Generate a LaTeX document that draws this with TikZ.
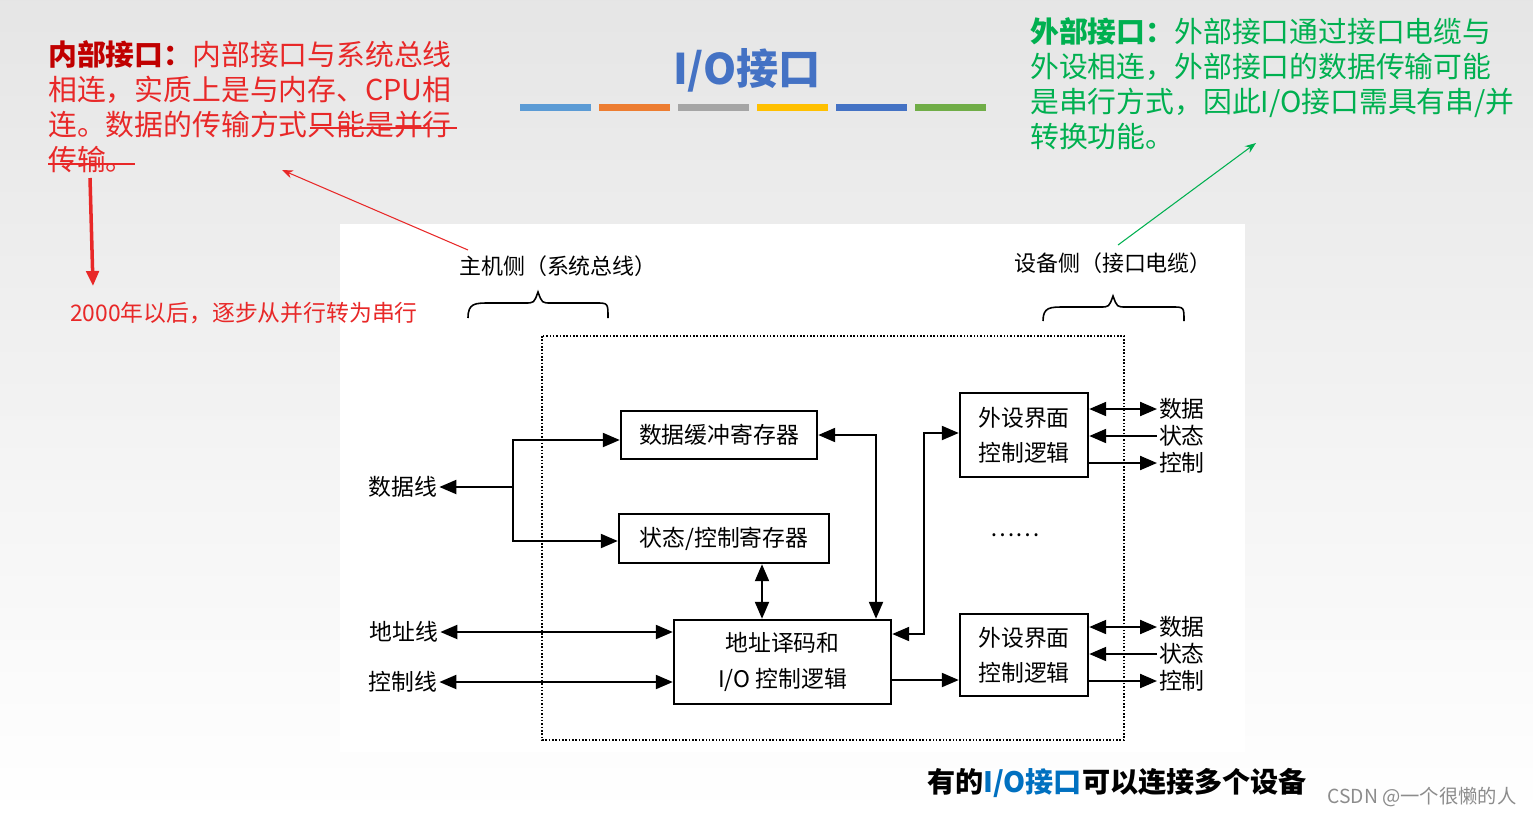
\documentclass[tikz,border=0pt]{standalone}
\usepackage{fontspec}
\setmainfont{Noto Sans CJK SC}
\usetikzlibrary{arrows.meta,shapes.geometric}
\definecolor{dred}{RGB}{192,0,0}
\definecolor{lred}{RGB}{232,40,40}
\definecolor{gr}{RGB}{0,176,80}
\definecolor{tblue}{RGB}{68,114,196}
\definecolor{b1}{RGB}{91,155,213}
\definecolor{b2}{RGB}{237,125,49}
\definecolor{b3}{RGB}{165,165,165}
\definecolor{b4}{RGB}{255,192,0}
\definecolor{b5}{RGB}{68,114,196}
\definecolor{b6}{RGB}{112,173,71}
\definecolor{iob}{RGB}{0,112,192}
\begin{document}
\begin{tikzpicture}[x=0.02cm,y=-0.02cm,
  box/.style={draw,line width=1.4pt,fill=white,inner sep=0pt,align=center,font=\fontsize{13}{20}\selectfont},
  lab/.style={font=\fontsize{12.5}{16}\selectfont,inner sep=1pt},
  ar/.style={line width=1.2pt,-{Triangle[length=0.34cm,width=0.28cm]}},
  dar/.style={line width=1.2pt,{Triangle[length=0.34cm,width=0.28cm]}-{Triangle[length=0.34cm,width=0.28cm]}},
  note/.style={font=\fontsize{16.4}{20}\selectfont,anchor=north west,inner sep=0pt,align=left}]
\useasboundingbox (0,0) rectangle (1533,815);
\shade[top color=black!10,bottom color=white] (0,0) rectangle (1533,815);
\fill[white] (340,224) rectangle (1245,752);
% title
\node[font=\fontsize{24}{28}\selectfont\bfseries,text=tblue] (title) at (747,70) {I/O接口};
\foreach \i/\c in {0/b1,1/b2,2/b3,3/b4,4/b5,5/b6}
  \fill[\c] (520+\i*79,104) rectangle (591+\i*79,111);
% left note
\node[note,text=lred] (ln) at (48,40) {\textcolor{dred}{\bfseries 内部接口：}内部接口与系统总线\\相连，实质上是与内存、CPU相\\连。数据的传输方式只能是并行\\传输。};
\draw[lred,line width=1.2pt] (310,128) -- (457,128);
\draw[lred,line width=1.2pt] (48,164) -- (135,164);
\coordinate (ra1) at (90,178);
\coordinate (ra2) at (93,286);
\draw[lred,line width=2pt,-{Triangle[length=0.3cm,width=0.25cm]}] (ra1) -- (ra2);
\node[font=\fontsize{13}{15}\selectfont,text=lred,anchor=west] (yr) at (64,313) {2000年以后，逐步从并行转为串行};
% right note
\node[note,text=gr] (rn) at (1030,17) {{\bfseries 外部接口：}外部接口通过接口电缆与\\外设相连，外部接口的数据传输可能\\是串行方式，因此I/O接口需具有串/并\\转换功能。};
% annotation arrows
\coordinate (la1) at (468,250);
\coordinate (la2) at (282,170);
\draw[lred,line width=0.6pt,-{Stealth[length=0.22cm]}] (la1) -- (la2);
\coordinate (ga1) at (1118,245);
\coordinate (ga2) at (1256,143);
\draw[gr,line width=0.6pt,-{Stealth[length=0.22cm]}] (ga1) -- (ga2);
% diagram
\draw[densely dotted,line width=0.9pt] (542,336) rectangle (1124,740);
\node[lab] (host) at (558,266) {主机侧（系统总线）};
\node[lab] (dev) at (1113,263) {设备侧（接口电缆）};
\draw[line width=0.9pt] (468,318) .. controls (468,303) and (475,303) .. (490,303) -- (525,303) .. controls (534,303) .. (538,292) .. controls (542,303) .. (551,303) -- (596,303) .. controls (608,303) .. (608,318);
\draw[line width=0.9pt] (1043,321) .. controls (1043,307) and (1050,307) .. (1065,307) -- (1100,307) .. controls (1109,307) .. (1113,296) .. controls (1117,307) .. (1126,307) -- (1172,307) .. controls (1184,307) .. (1184,321);
% boxes
\node[box,minimum width=3.92cm,minimum height=0.96cm] (buf) at (719,435) {数据缓冲寄存器};
\node[box,minimum width=4.2cm,minimum height=0.98cm] (st) at (724,538.5) {状态/控制寄存器};
\node[box,minimum width=4.34cm,minimum height=1.68cm] (dec) at (782.5,662) {地址译码和\\I/O 控制逻辑};
\node[box,minimum width=2.56cm,minimum height=1.68cm] (p1) at (1024,435) {外设界面\\控制逻辑};
\node[box,minimum width=2.56cm,minimum height=1.64cm] (p2) at (1024,655) {外设界面\\控制逻辑};
\node[lab,font=\fontsize{13}{16}\selectfont] (dots) at (1015,535) {……};
% left labels
\node[lab,font=\fontsize{13}{16}\selectfont] (dl) at (403,487) {数据线};
\node[lab,font=\fontsize{13}{16}\selectfont] (al) at (404,632) {地址线};
\node[lab,font=\fontsize{13}{16}\selectfont] (cl) at (403,682) {控制线};
\coordinate (br) at (513,487);
\draw[ar] (br) -- (dl.east);
\draw[ar] (br) |- (buf.west |- 0,440);
\draw[ar] (br) |- (st.west |- 0,541);
\draw[dar] (al.east) -- (dec.west |- al.east);
\draw[dar] (cl.east) -- (dec.west |- cl.east);
\draw[dar] (st.south -| 762,0) -- (dec.north -| 762,0);
\coordinate (c1) at (876,435);
\draw[dar] (buf.east) -- (c1) -- (dec.north -| c1);
\coordinate (c2) at (924,634);
\coordinate (c3) at (924,433);
\draw[dar] (dec.east |- c2) -- (c2) -- (c3) -- (p1.west |- c3);
\draw[ar] (dec.east |- 0,680) -- (p2.west |- 0,680);
% right labels
\foreach \n/\p/\y/\t in {d1/p1/409/数据,s1/p1/436/状态,k1/p1/463/控制,d2/p2/627/数据,s2/p2/654/状态,k2/p2/681/控制}
  \node[lab,font=\fontsize{13}{16}\selectfont,anchor=west] (\n) at (1157,\y) {\t};
\draw[dar] (p1.east |- d1) -- (d1.west);
\draw[ar] (s1.west) -- (p1.east |- s1);
\draw[ar] (p1.east |- k1) -- (k1.west);
\draw[dar] (p2.east |- d2) -- (d2.west);
\draw[ar] (s2.west) -- (p2.east |- s2);
\draw[ar] (p2.east |- k2) -- (k2.west);
% bottom
\node[font=\fontsize{16}{20}\selectfont\bfseries] (bt) at (1117,783) {有的\textcolor{iob}{I/O接口}可以连接多个设备};
\node[font=\fontsize{11}{13}\selectfont,text=black!45] (wm) at (1422,797) {CSDN @一个很懒的人};
\end{tikzpicture}
\end{document}
